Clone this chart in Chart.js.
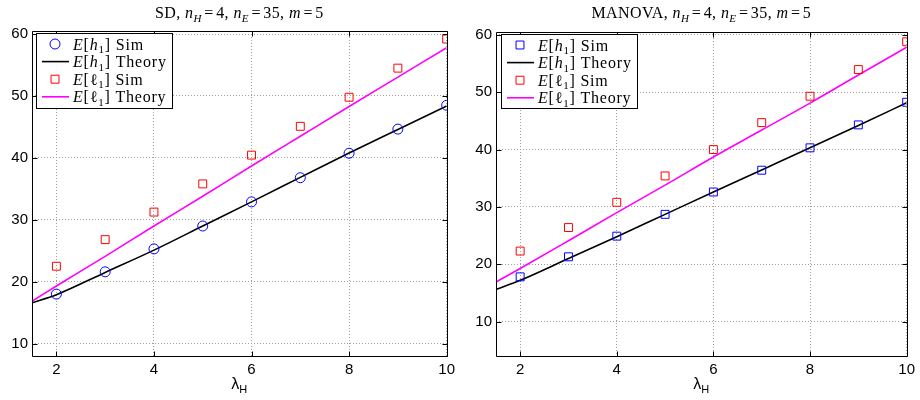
<!DOCTYPE html>
<html><head><meta charset="utf-8">
<script src="https://cdn.jsdelivr.net/npm/chart.js@4.4.0/dist/chart.umd.min.js"></script>
<style>
html,body{margin:0;padding:0;background:#fff;}
#wrap{position:relative;width:920px;height:400px;background:#fff;}
.pane{position:absolute;top:0;width:460px;height:400px;}
</style></head><body>
<div id="wrap">
<div class="pane" style="left:0"><canvas id="c1" width="460" height="400"></canvas></div>
<div class="pane" style="left:460px"><canvas id="c2" width="460" height="400"></canvas></div>
</div>
<script>
// ---- data ----
const lambdaSim = [2, 3, 4, 5, 6, 7, 8, 9, 10];
const lambdaTheory = [1.5, 2, 3, 4, 5, 6, 7, 8, 9, 10];
const sdH1Sim = [18.0, 21.6, 25.3, 29.0, 32.9, 36.8, 40.75, 44.65, 48.5];
const sdH1Theory = [16.6, 17.9, 21.5, 25.1, 29.0, 32.9, 36.85, 40.8, 44.6, 48.4];
const sdL1Sim = [22.5, 26.8, 31.25, 35.8, 40.45, 45.1, 49.8, 54.5, 59.2];
const sdL1Theory = [16.85, 19.3, 24.1, 29.0, 33.8, 38.7, 43.5, 48.3, 53.05, 57.8];
const manH1Sim = [17.8, 21.3, 24.9, 28.7, 32.6, 36.4, 40.3, 44.3, 48.25];
const manH1Theory = [15.6, 17.2, 21.0, 24.8, 28.7, 32.6, 36.45, 40.3, 44.2, 48.15];
const manL1Sim = [22.3, 26.4, 30.8, 35.4, 40.0, 44.7, 49.3, 53.95, 58.8];
const manL1Theory = [16.9, 19.25, 24.1, 29.0, 33.8, 38.7, 43.4, 48.1, 53.0, 57.85];
const xTickValues = [2, 4, 6, 8, 10];
const yTickValues = [10, 20, 30, 40, 50, 60];
const seriesLabels = ['E[h1] Sim', 'E[h1] Theory', 'E[ℓ1] Sim', 'E[ℓ1] Theory'];

// rich text for legend labels / titles
const legendRuns = [
  [{t:'E',i:1},{t:'['},{t:'h',i:1},{t:'1',s:1},{t:']'},{t:' Sim'}],
  [{t:'E',i:1},{t:'['},{t:'h',i:1},{t:'1',s:1},{t:']'},{t:' Theory'}],
  [{t:'E',i:1},{t:'['},{t:'ℓ'},{t:'1',s:1},{t:']'},{t:' Sim'}],
  [{t:'E',i:1},{t:'['},{t:'ℓ'},{t:'1',s:1},{t:']'},{t:' Theory'}]
];
function titleRuns(name){
  return [{t:name+', '},{t:'n',i:1},{t:'H',i:1,s:1},{t:'=',g:2.5},{t:'4, '},
          {t:'n',i:1},{t:'E',i:1,s:1},{t:'=',g:2.5},{t:'35, '},{t:'m',i:1},{t:'=',g:2.5},{t:'5'}];
}

const SERIF = '"Liberation Serif","Times New Roman",serif';
const SANS = '"Liberation Sans",Arial,Helvetica,sans-serif';
function fontFor(r, size, fam){
  const sz = r.s ? Math.round(size*0.7) : size;
  return (r.i ? 'italic ' : '') + sz + 'px ' + fam;
}
function richWidth(ctx, runs, size, fam){
  let w = 0;
  runs.forEach(r => { ctx.font = fontFor(r,size,fam); w += ctx.measureText(r.t).width + 2*(r.g||0); });
  return w;
}
function drawRich(ctx, runs, x, y, size, fam){
  let cx = x;
  runs.forEach(r => {
    ctx.font = fontFor(r,size,fam);
    cx += (r.g||0);
    ctx.fillText(r.t, cx, y + (r.s ? size*0.22 : 0));
    cx += ctx.measureText(r.t).width + (r.g||0);
  });
}
function setSpacing(ctx, px){ if ('letterSpacing' in ctx) ctx.letterSpacing = px + 'px'; }

const decorPlugin = {
  id: 'decor',
  afterDatasetsDraw(chart, args, opts){
    const ctx = chart.ctx, a = chart.chartArea;
    const xs = chart.scales.x, ys = chart.scales.y;
    ctx.save();
    ctx.strokeStyle = '#000';
    ctx.lineWidth = 1;
    ctx.beginPath();
    const L = Math.round(a.left)+0.5, R = Math.round(a.right)+0.5, T = Math.round(a.top)+0.5, B = Math.round(a.bottom)+0.5;
    ctx.rect(L, T, R-L, B-T);
    const tl = 5;
    xTickValues.forEach(v => {
      const p = Math.round(xs.getPixelForValue(v))+0.5;
      ctx.moveTo(p, B); ctx.lineTo(p, B-tl);
      ctx.moveTo(p, T); ctx.lineTo(p, T+tl);
    });
    yTickValues.forEach(v => {
      const p = Math.round(ys.getPixelForValue(v))+0.5;
      ctx.moveTo(L, p); ctx.lineTo(L+tl, p);
      ctx.moveTo(R, p); ctx.lineTo(R-tl, p);
    });
    ctx.stroke();
    ctx.restore();
  },
  afterDraw(chart, args, opts){
    const ctx = chart.ctx, a = chart.chartArea;
    ctx.save();
    ctx.fillStyle = '#000';
    ctx.textBaseline = 'alphabetic';
    // title
    setSpacing(ctx, 0.4);
    const tr = titleRuns(opts.titleName);
    const tw = richWidth(ctx, tr, 16, SERIF);
    drawRich(ctx, tr, (a.left+a.right)/2 - tw/2, 18, 16, SERIF);
    setSpacing(ctx, 0);
    // x axis label lambda_H
    const xr = [{t:'λ'},{t:'H',s:1}];
    const xw = richWidth(ctx, xr, 16, SANS);
    drawRich(ctx, xr, (a.left+a.right)/2 - xw/2, 389, 16, SANS);
    // legend
    const lg = opts.legend;
    ctx.fillStyle = '#fff';
    ctx.fillRect(lg.x, lg.y, lg.w, lg.h);
    ctx.strokeStyle = '#000';
    ctx.lineWidth = 1;
    ctx.strokeRect(lg.x+0.5, lg.y+0.5, lg.w, lg.h);
    chart.data.datasets.forEach((ds, k) => {
      const ry = lg.y + 11 + k*17.6;
      const mx = lg.x + 19;
      if (ds.showLine === false) {
        ctx.strokeStyle = ds.pointBorderColor;
        ctx.lineWidth = 1;
        ctx.beginPath();
        if (ds.pointStyle === 'circle') {
          ctx.arc(mx, ry, ds.pointRadius, 0, Math.PI*2);
        } else {
          const h = ds.pointRadius*Math.SQRT1_2;
          ctx.rect(mx-h, ry-h, 2*h, 2*h);
        }
        ctx.stroke();
      } else {
        ctx.strokeStyle = ds.borderColor;
        ctx.lineWidth = ds.borderWidth;
        ctx.beginPath();
        ctx.moveTo(lg.x+6, ry); ctx.lineTo(lg.x+33, ry);
        ctx.stroke();
      }
      ctx.fillStyle = '#000';
      setSpacing(ctx, 0.8);
      drawRich(ctx, legendRuns[k], lg.x + 37, ry + 5.5, 16, SERIF);
      setSpacing(ctx, 0);
    });
    ctx.restore();
  }
};

function pts(xs, ys){ return xs.map((x,i) => ({x:x, y:ys[i]})); }

function makeChart(id, name, h1Sim, h1Th, l1Sim, l1Th, yMin, padTop, padRight, h1Style, legendPos){
  const simCommon = {showLine:false, pointBorderWidth:1, pointBackgroundColor:'rgba(0,0,0,0)', backgroundColor:'rgba(0,0,0,0)'};
  return new Chart(document.getElementById(id), {
    type: 'line',
    data: {
      datasets: [
        Object.assign({label: seriesLabels[0], data: pts(lambdaSim, h1Sim), pointStyle: h1Style,
          pointRadius: h1Style === 'circle' ? 5 : 5.6, pointBorderColor:'#0000ff', borderColor:'#0000ff'}, simCommon),
        {label: seriesLabels[1], data: pts(lambdaTheory, h1Th), borderColor:'#000000', borderWidth:1.6,
          pointRadius:0, cubicInterpolationMode:'monotone', fill:false},
        Object.assign({label: seriesLabels[2], data: pts(lambdaSim, l1Sim), pointStyle:'rect',
          pointRadius:5.6, pointBorderColor:'#ff0000', borderColor:'#ff0000'}, simCommon),
        {label: seriesLabels[3], data: pts(lambdaTheory, l1Th), borderColor:'#ff00ff', borderWidth:1.6,
          pointRadius:0, cubicInterpolationMode:'monotone', fill:false}
      ]
    },
    options: {
      responsive: false,
      animation: false,
      devicePixelRatio: 1,
      events: [],
      layout: {padding: {top: padTop, right: padRight, left: 0, bottom: 0}},
      plugins: {
        legend: {display:false},
        title: {display:false},
        tooltip: {enabled:false},
        decor: {titleName: name, legend: legendPos}
      },
      scales: {
        x: {
          type:'linear', min:1.5, max:10,
          afterBuildTicks: s => { s.ticks = xTickValues.map(v => ({value:v})); },
          afterFit: s => { s.height = 44; },
          ticks: {color:'#000', font:{family:SANS, size:15}, padding:5, maxRotation:0, autoSkip:false},
          grid: {color:'#a0a0a0', lineWidth:1, drawTicks:false},
          border: {display:false, dash:[1,2]}
        },
        y: {
          type:'linear', min:yMin, max:60.5,
          afterBuildTicks: s => { s.ticks = yTickValues.map(v => ({value:v})); },
          afterFit: s => { s.width = id === 'c1' ? 32 : 36; },
          ticks: {color:'#000', font:{family:SANS, size:15}, padding:4, autoSkip:false},
          grid: {color:'#a0a0a0', lineWidth:1, drawTicks:false},
          border: {display:false, dash:[1,2]}
        }
      }
    },
    plugins: [decorPlugin]
  });
}

makeChart('c1', 'SD', sdH1Sim, sdH1Theory, sdL1Sim, sdL1Theory, 8, 31, 13, 'circle', {x:36, y:33, w:136, h:75});
makeChart('c2', 'MANOVA', manH1Sim, manH1Theory, manL1Sim, manL1Theory, 4, 32, 9, 'rect', {x:41, y:34, w:136, h:74});
</script>
</body></html>
